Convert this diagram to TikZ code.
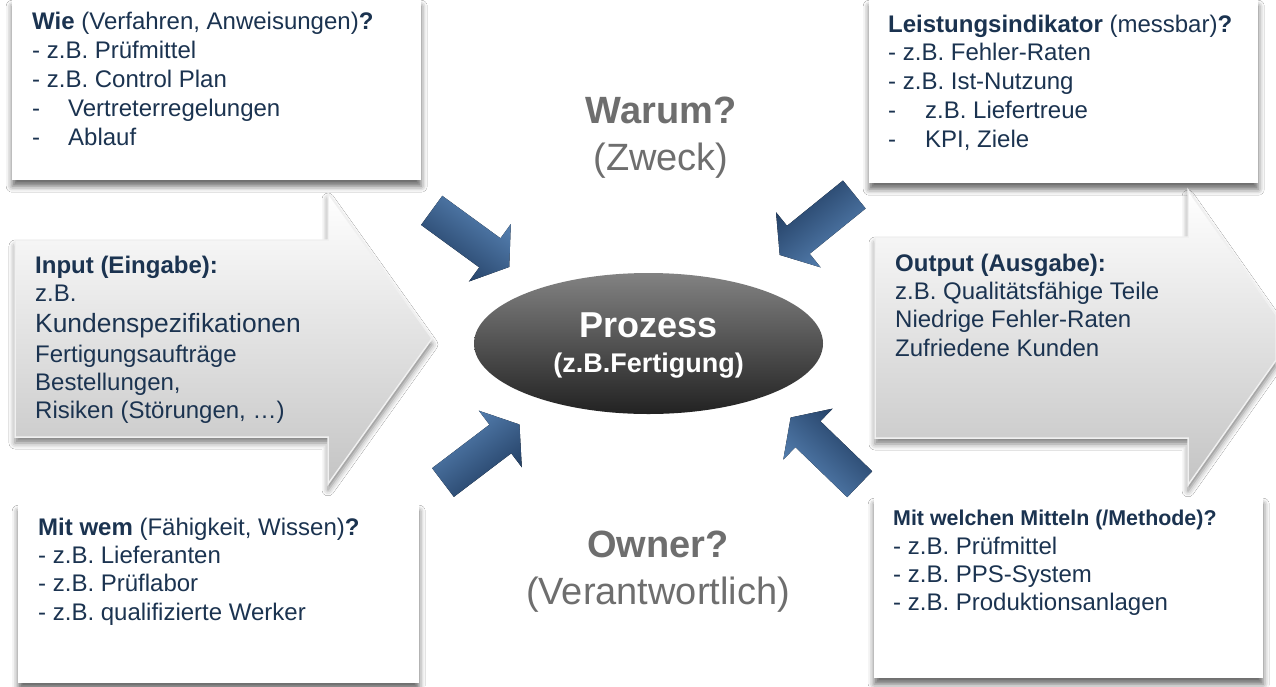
\documentclass[tikz,border=0pt]{standalone}
\usepackage{fontspec}
\setmainfont{Liberation Sans}
\usetikzlibrary{shadows.blur,shapes.geometric}
\definecolor{txt}{HTML}{1B3350}
\definecolor{greytxt}{HTML}{6E6E6E}
\definecolor{navyd}{HTML}{1F3A5E}
\definecolor{navyl}{HTML}{5A86B8}
\definecolor{elltop}{HTML}{828282}
\definecolor{ellmid}{HTML}{3A3A3A}
\definecolor{ellbot}{HTML}{222222}
\definecolor{arrbot}{HTML}{C4C4C4}
\newcommand{\fsz}[2]{\fontsize{#1}{#2}\selectfont}
\newcommand{\ind}[1]{\makebox[#1][l]{-}}
\tikzset{
  infobox/.style={fill=white, draw=none, inner sep=0pt, anchor=north west,
    blur shadow={shadow xshift=0pt, shadow yshift=-6pt, shadow blur radius=6pt, shadow opacity=60}},
  bigarrow/.style={top color=white, bottom color=arrbot, draw=gray!12, line width=1.5pt,
    blur shadow={shadow xshift=0pt, shadow yshift=-6pt, shadow blur radius=6pt, shadow opacity=50}},
  txtblk/.style={anchor=base west, inner sep=0pt, text=txt},
  bluearrow/.style={top color=navyl, bottom color=navyd, draw=none},
  bigq/.style={anchor=base, inner sep=0pt, text=greytxt, font=\fsz{38}{46}},
}
\newcommand{\bluearr}[4]{%
  \fill[bluearrow, shading angle=#4, shift={(#1,#2)}, rotate=#3]
    (0,-18) -- (72,-18) -- (72,-35.5) -- (96,0) -- (72,35.5) -- (72,18) -- (0,18) -- cycle;}
\begin{document}
\begin{tikzpicture}[x=1pt,y=-1pt]
\useasboundingbox (0,0) rectangle (1276,686);
\fill[white] (0,0) rectangle (1276,686);

% boxes
\node[infobox, minimum width=409, minimum height=180] (boxtl) at (12,0) {};
\node[infobox, minimum width=389, minimum height=183] (boxtr) at (869,0) {};
\node[infobox, minimum width=401, minimum height=178] (boxbl) at (18,505) {};
\node[infobox, minimum width=389, minimum height=180] (boxbr) at (874,498) {};

% input / output arrows
\path[bigarrow] (15,240) -- (328,240) -- (328,193) -- (432,338.5) -- (328,484) -- (328,437) -- (15,437) -- cycle;
\path[bigarrow] (875,237) -- (1188,237) -- (1188,190) -- (1276,314.8) -- (1276,360.2) -- (1188,485) -- (1188,438) -- (875,438) -- cycle;

% process ellipse
\node[ellipse, minimum width=349, minimum height=141, inner sep=0pt,
  top color=elltop, middle color=ellmid, bottom color=ellbot] (proc) at (648.5,343.5) {};
\node[anchor=base, inner sep=0pt, text=white, font=\bfseries\fsz{36}{40}] (proz) at (648.5,337) {Prozess};
\node[anchor=base, inner sep=0pt, text=white, font=\bfseries\fsz{27}{30}] (fert) at (648.5,372) {(z.B.Fertigung)};

% blue arrows
\bluearr{431.7}{210.4}{-36.1}{-36}
\bluearr{854.3}{194.5}{-141}{-141}
\bluearr{443}{482.5}{37.2}{37}
\bluearr{859.7}{484.2}{136}{136}

% questions
\node[bigq, font=\bfseries\fsz{38}{46}] (warum) at (661,123) {Warum?};
\node[bigq] (zweck) at (661,170) {(Zweck)};
\node[bigq, font=\bfseries\fsz{38}{46}] (owner) at (658,557) {Owner?};
\node[bigq] (verant) at (658,604) {(Verantwortlich)};

% texts
\node[txtblk, font=\fsz{24}{29}] (wie) at (32,29) {\begin{tabular}[t]{@{}l@{}}
\textbf{Wie} (Verfahren, Anweisungen)\textbf{?}\\
- z.B. Prüfmittel\\
- z.B. Control Plan\\
\ind{36pt}Vertreterregelungen\\
\ind{36pt}Ablauf
\end{tabular}};

\node[txtblk, font=\fsz{24}{28.8}] (leist) at (888,32) {\begin{tabular}[t]{@{}l@{}}
\textbf{Leistungsindikator} (messbar)\textbf{?}\\
- z.B. Fehler-Raten\\
- z.B. Ist-Nutzung\\
\ind{37pt}z.B. Liefertreue\\
\ind{37pt}KPI, Ziele
\end{tabular}};

\node[txtblk, font=\fsz{24}{28}] (input) at (35,273) {\begin{tabular}[t]{@{}l@{}}
\textbf{Input (Eingabe):}\\
z.B.\\[3pt]
{\fsz{26.4}{28}Kundenspezifikationen}\\[2pt]
Fertigungsaufträge\\
Bestellungen,\\
Risiken (Störungen, …)
\end{tabular}};

\node[txtblk, font=\fsz{24}{28.4}] (output) at (895,271) {\begin{tabular}[t]{@{}l@{}}
\textbf{Output (Ausgabe):}\\
z.B. Qualitätsfähige Teile\\
Niedrige Fehler-Raten\\
Zufriedene Kunden
\end{tabular}};

\node[txtblk, font=\fsz{24}{28.4}] (mitwem) at (38,535) {\begin{tabular}[t]{@{}l@{}}
\textbf{Mit wem} (Fähigkeit, Wissen)\textbf{?}\\
- z.B. Lieferanten\\
- z.B. Prüflabor\\
- z.B. qualifizierte Werker
\end{tabular}};

\node[txtblk, font=\fsz{24}{28}] (mittel) at (893,525) {\begin{tabular}[t]{@{}l@{}}
{\bfseries\fsz{21.4}{28}Mit welchen Mitteln (/Methode)?}\\[1pt]
- z.B. Prüfmittel\\
- z.B. PPS-System\\
- z.B. Produktionsanlagen
\end{tabular}};
\end{tikzpicture}
\end{document}
